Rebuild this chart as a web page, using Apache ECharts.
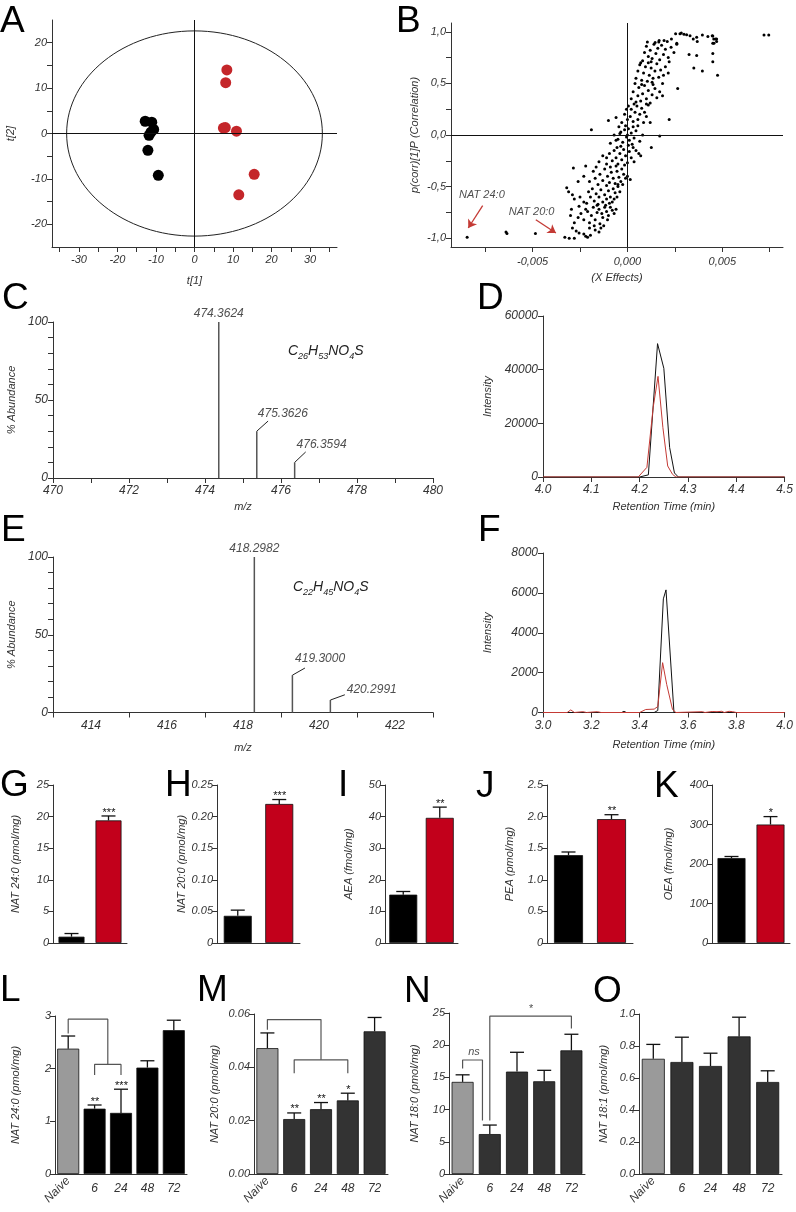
<!DOCTYPE html>
<html><head><meta charset="utf-8">
<script src="https://cdn.jsdelivr.net/npm/echarts@6/dist/echarts.min.js"></script>
<style>html,body{margin:0;padding:0;background:#fff}#c{width:796px;height:1212px}</style>
</head><body><div id="c"></div>
<script>
// ---------------- DATA ----------------
// A: PCA scores
const scoresControlX = [-12.8, -11.1, -10.6, -11.3, -11.8, -12.1, -9.4];
const scoresControlY = [2.7, 2.5, 0.9, 0.3, -0.4, -3.7, -9.2];
const scoresTreatedX = [8.4, 8.1, 7.5, 8.0, 10.9, 15.5, 11.5];
const scoresTreatedY = [14.0, 11.2, 1.2, 1.3, 0.5, -9.0, -13.5];
const hotellingRadii = [33.2, 22.6];
// B: S-plot (X effects, correlation)
const sPlotPoints = [
[-0.00845,-0.99],[-0.0064,-0.94],[-0.00635,-0.955],[-0.00485,-0.955],[-0.0033,-0.99],[-0.00307,-1.0],[-0.0028,-1.0],
[0.0072,0.968],[0.00745,0.968],[0.00475,0.58],[0.00395,0.62],[0.0035,0.65],[0.0045,0.71],[0.0045,0.79],[0.0045,0.89],[0.00455,0.93],[0.0047,0.93],[0.0045,0.96],[0.00365,0.77],[0.00325,0.78],[0.00265,0.45],[0.0022,0.15],[0.0017,-0.01],[0.00126,-0.12],[-0.0019,0.05],[-0.001,0.14],[-0.00285,-0.32],[-0.0022,-0.3],[-0.0032,-0.51],
[0.00146,0.897],[0.00167,0.916],[0.00193,0.916],[0.0021,0.906],[0.00232,0.929],[0.00254,0.981],[0.0026,0.89],[0.00277,0.981],[0.00284,0.987],[0.00298,0.977],[0.00312,0.971],[0.0033,0.961],[0.00347,0.929],[0.00365,0.948],[0.00368,0.906],[0.00395,0.968],[0.00424,0.955],[0.00447,0.961],[0.00465,0.929],[0.0047,0.906],[0.00456,0.89],
[-0.00255,-0.95],[-0.0023,-0.96],[-0.0022,-0.98],[-0.0021,-0.99],[-0.00195,-0.97],[-0.0017,-0.92],[-0.0015,-0.94],[-0.0014,-0.9],[-0.0027,-0.93],[-0.0029,-0.9],[-0.00125,-0.88],[-0.002,-0.9],
[-0.0028,-0.85],[-0.0026,-0.8],[-0.00245,-0.76],[-0.0023,-0.82],[-0.0022,-0.72],[-0.002,-0.85],[-0.0019,-0.78],[-0.0018,-0.7],[-0.0017,-0.82],[-0.0016,-0.75],[-0.0015,-0.72],[-0.00145,-0.86],[-0.0013,-0.8],[-0.0012,-0.7],[-0.0011,-0.74],[-0.001,-0.78],[-0.0009,-0.7],[-0.0008,-0.73],[-0.0007,-0.76],[-0.00175,-0.88],[-0.0021,-0.74],[-0.00135,-0.76],[-0.00105,-0.82],[-0.0006,-0.72],[-0.00155,-0.67],[-0.003,-0.78],[-0.00295,-0.72],[-0.00255,-0.69],
[-0.0031,-0.55],[-0.0029,-0.58],[-0.0028,-0.62],[-0.0025,-0.6],[-0.0023,-0.65],[-0.00205,-0.55],[-0.00195,-0.6],[-0.00185,-0.52],[-0.00175,-0.64],[-0.00165,-0.57],[-0.0015,-0.6],[-0.0014,-0.53],[-0.0013,-0.65],[-0.0012,-0.58],[-0.0011,-0.62],[-0.001,-0.54],[-0.0009,-0.6],[-0.0008,-0.65],[-0.00075,-0.52],[-0.00065,-0.56],[-0.00055,-0.6],[-0.0005,-0.5],[-0.0004,-0.55],[-0.0016,-0.68],[-0.00115,-0.68],[-0.00095,-0.66],[-0.0007,-0.62],[-0.00215,-0.66],
[-0.0026,-0.45],[-0.0023,-0.4],[-0.002,-0.45],[-0.0018,-0.35],[-0.0017,-0.42],[-0.00155,-0.48],[-0.00145,-0.38],[-0.0013,-0.44],[-0.0012,-0.33],[-0.00105,-0.4],[-0.00095,-0.46],[-0.00085,-0.36],[-0.00075,-0.42],[-0.00065,-0.47],[-0.00055,-0.35],[-0.00045,-0.41],[-0.00035,-0.45],[-0.0003,-0.33],[-0.0002,-0.38],[-0.0001,-0.42],[0.0,-0.4],[0.00015,-0.43],[-0.0006,-0.3],[-0.00165,-0.31],[-0.0009,-0.31],[-0.0005,-0.48],[-0.00025,-0.48],[-0.0011,-0.49],
[-0.0011,-0.22],[-0.0015,-0.26],[-0.0013,-0.2],[-0.0011,-0.28],[-0.00095,-0.18],[-0.0008,-0.25],[-0.0007,-0.15],[-0.0006,-0.22],[-0.0005,-0.28],[-0.0004,-0.18],[-0.0003,-0.24],[-0.0002,-0.14],[-0.0001,-0.2],[0.0,-0.27],[0.0001,-0.16],[0.0002,-0.22],[0.0003,-0.12],[0.00045,-0.15],[0.0006,-0.18],[0.0007,-0.2],[-0.00035,-0.11],[-0.00055,-0.12],[0.00005,-0.1],[-0.00015,-0.29],[0.00035,-0.26],
[-0.0006,-0.05],[-0.0004,0.015],[-0.0009,-0.08],[-0.0007,0.0],[-0.0005,-0.04],[-0.00035,0.03],[-0.00025,-0.07],[-0.00015,0.05],[-0.00005,-0.02],[0.00005,0.06],[0.0001,-0.05],[0.0002,0.02],[0.0003,0.08],[0.00035,-0.03],[0.00045,0.04],[0.00055,0.09],[0.00065,-0.06],[0.0008,0.0],[-0.0001,0.09],[0.0,0.0],[0.00025,-0.09],[-0.00045,0.08],
[-0.0006,0.17],[-0.0003,0.12],[-0.00015,0.2],[0.0,0.15],[0.00005,0.28],[0.00015,0.18],[0.0002,0.25],[0.0003,0.13],[0.0004,0.22],[0.0005,0.28],[0.00055,0.15],[0.00065,0.2],[0.00075,0.26],[0.00085,0.12],[0.001,0.18],[0.0011,0.29],[0.00035,0.3],[-0.00005,0.25],[0.0009,0.22],[0.0012,0.12],
[0.0002,0.35],[0.0003,0.42],[0.00045,0.32],[0.00055,0.38],[0.0006,0.46],[0.0007,0.33],[0.0008,0.4],[0.0009,0.48],[0.001,0.35],[0.0011,0.43],[0.0012,0.31],[0.0013,0.39],[0.00145,0.45],[0.00155,0.36],[0.0017,0.42],[0.0004,0.5],[0.00075,0.49],[0.00135,0.49],[0.00185,0.38],[0.001,0.3],
[0.00045,0.55],[0.00055,0.62],[0.00065,0.68],[0.00075,0.53],[0.00085,0.6],[0.00095,0.66],[0.00105,0.52],[0.00115,0.58],[0.00125,0.65],[0.00135,0.55],[0.00145,0.62],[0.00155,0.69],[0.00165,0.56],[0.00175,0.63],[0.0019,0.58],[0.002,0.66],[0.00215,0.6],[0.0007,0.7],[0.0011,0.7],[0.00185,0.5],[0.0013,0.51],
[0.0008,0.72],[0.0009,0.8],[0.001,0.86],[0.0011,0.76],[0.0012,0.82],[0.0013,0.74],[0.0014,0.88],[0.0015,0.79],[0.0016,0.84],[0.0017,0.73],[0.0018,0.87],[0.0019,0.78],[0.002,0.83],[0.00215,0.75],[0.0023,0.85],[0.00245,0.8],[0.00105,0.9],[0.00165,0.9],[0.0026,0.88],[0.0022,0.71],[0.00125,0.71]
];
const sPlotArrows = [
  {label: 'NAT 24:0', from: [-0.00763, -0.685], to: [-0.00839, -0.901], text: [-0.00767, -0.585]},
  {label: 'NAT 20:0', from: [-0.00483, -0.821], to: [-0.00377, -0.950], text: [-0.00505, -0.743]}
];
// C, E: mass spectra
const spectrumC_mz = [474.3624, 475.3626, 476.3594];
const spectrumC_ab = [100, 30, 10];
const spectrumE_mz = [418.2982, 419.3000, 420.2991];
const spectrumE_ab = [100, 24, 8];
const leaderC = [{end: [475.66, 36.5], text: [475.39, 41.5]}, {end: [476.65, 16.7], text: [476.41, 21.2]}];
const leaderE = [{end: [419.63, 28.6], text: [419.37, 34.5]}, {end: [420.68, 11.4], text: [420.73, 14.6]}];
// D, F: chromatograms [time, intensity]
const chromD_black = [[4.0,0],[4.2,0],[4.218,800],[4.237,49700],[4.25,40500],[4.262,11000],[4.272,1500],[4.28,0],[4.5,0]];
const chromD_red = [[4.0,0],[4.197,0],[4.215,3600],[4.228,26000],[4.238,37500],[4.248,18500],[4.258,4100],[4.268,1000],[4.275,0],[4.5,0]];
const chromF_black = [[3.0,0],[3.325,0],[3.335,60],[3.345,0],[3.46,0],[3.475,100],[3.498,5700],[3.509,6150],[3.542,0],[4.0,0]];
const chromF_red = [[3.0,0],[3.1,0],[3.115,130],[3.13,0],[3.165,40],[3.18,0],[3.225,40],[3.24,0],[3.4,0],[3.425,150],[3.46,170],[3.475,300],[3.495,2500],[3.512,1400],[3.536,150],[3.55,0],[3.66,40],[3.67,0],[3.7,50],[3.72,40],[3.74,60],[3.75,0],[3.77,60],[3.785,40],[3.8,0],[4.0,0]];
// G-K: two groups
const groupCats = ['Control', 'Treated'];
const G_mean = [1.0, 19.4], G_sem = [0.5, 0.7], G_sig = ['', '***'];
const H_mean = [0.043, 0.22], H_sem = [0.009, 0.007], H_sig = ['', '***'];
const I_mean = [15.3, 39.6], I_sem = [1.0, 3.4], I_sig = ['', '**'];
const J_mean = [1.39, 1.96], J_sem = [0.05, 0.07], J_sig = ['', '**'];
const K_mean = [215, 300], K_sem = [4, 20], K_sig = ['', '*'];
// L-O: time course
const timeCats = ['Naive', '6', '24', '48', '72'];
const L_mean = [2.38, 1.24, 1.16, 2.02, 2.73], L_sem = [0.24, 0.07, 0.45, 0.13, 0.19], L_sig = ['', '**', '***', '', ''];
const M_mean = [0.0472, 0.0206, 0.0243, 0.0276, 0.0535], M_sem = [0.0057, 0.0023, 0.0025, 0.0027, 0.0052], M_sig = ['', '**', '**', '*', ''];
const N_mean = [14.3, 6.2, 15.9, 14.4, 19.2], N_sem = [1.1, 1.4, 3.0, 1.7, 2.5], N_sig = ['', '', '', '', ''];
const O_mean = [0.72, 0.70, 0.675, 0.86, 0.575], O_sem = [0.09, 0.155, 0.08, 0.12, 0.07], O_sig = ['', '', '', '', ''];
const L_brackets = [[[0,2.67],[0,2.94],[1.5,2.94],[1.5,2.08]], [[1,1.88],[1,2.08],[2,2.08],[2,1.88]]];
const M_brackets = [[[0,0.0541],[0,0.0579],[2,0.0579],[2,0.0428]], [[1,0.0378],[1,0.0428],[3,0.0428],[3,0.0378]]];
const N_brackets = [[[0,16.4],[0,17.7],[0.73,17.7],[0.73,8.3]], [[1,8.3],[1,24.5],[4,24.5],[4,22.6]]];
const N_bracketText = [{t: 'ns', at: [0.42, 18.9]}, {t: '*', at: [2.5, 25.7]}];

// ---------------- BUILD ----------------
const FONT = '"Liberation Sans", Arial, Helvetica, sans-serif';
const INK = '#333';
const RED = '#c2001b';
const DOT_RED = '#c4262a';
const LINE_RED = '#c43a35';
const gridList = [], xAxes = [], yAxes = [], series = [], graphics = [];

function addGrid(left, top, width, height) { gridList.push({left, top, width, height}); return gridList.length - 1; }
function axisBase(gi, extra) {
  const ax = {
    gridIndex: gi,
    axisLine: {show: true, onZero: false, lineStyle: {color: INK, width: 1}},
    axisTick: {show: true, inside: false, length: 5, lineStyle: {color: INK, width: 1}},
    axisLabel: {show: true, margin: 5, fontFamily: FONT, fontStyle: 'italic', fontSize: 11, color: INK},
    splitLine: {show: false},
    nameLocation: 'middle',
    nameTextStyle: {fontFamily: FONT, fontStyle: 'italic', fontSize: 11, color: INK}
  };
  for (const k in extra) {
    const v = extra[k];
    if (v && typeof v === 'object' && !Array.isArray(v) && ax[k] && typeof ax[k] === 'object') ax[k] = Object.assign({}, ax[k], v);
    else ax[k] = v;
  }
  return ax;
}
function addX(gi, extra) { xAxes.push(axisBase(gi, Object.assign({position: 'bottom'}, extra))); return xAxes.length - 1; }
function addY(gi, extra) { yAxes.push(axisBase(gi, Object.assign({position: 'left'}, extra))); return yAxes.length - 1; }
const zip = (a, b) => a.map((v, i) => [v, b[i]]);
const crosshair = () => ({silent: true, symbol: ['none', 'none'], label: {show: false}, animation: false,
  lineStyle: {color: '#111', width: 1, type: 'solid'}, emphasis: {disabled: true}, data: [{xAxis: 0}, {yAxis: 0}]});
const comma = d => v => v.toFixed(d).replace('.', ',');
const plain = v => String(v);
const labelText = {fontFamily: FONT, fontStyle: 'italic', fontWeight: 'normal', fontSize: 12, color: '#222'};

// ----- A -----
const gA = addGrid(52, 20, 285, 227);
const xA = addX(gA, {type: 'value', min: -37, max: 37,
  axisTick: {customValues: [-35,-30,-25,-20,-15,-10,-5,0,5,10,15,20,25,30,35]},
  axisLabel: {customValues: [-30,-20,-10,0,10,20,30], margin: 7}, name: 't[1]', nameGap: 28});
const yA = addY(gA, {type: 'value', min: -25, max: 25,
  axisTick: {customValues: [-20,-15,-10,-5,0,5,10,15,20]},
  axisLabel: {customValues: [-20,-10,0,10,20]}, name: 't[2]', nameGap: 36});
series.push({type: 'custom', xAxisIndex: xA, yAxisIndex: yA, silent: true, z: 1,
  data: [[0, 0, hotellingRadii[0], hotellingRadii[1]]],
  renderItem: (p, api) => {
    const c = api.coord([api.value(0), api.value(1)]);
    const s = api.size([api.value(2), api.value(3)]);
    return {type: 'ellipse', shape: {cx: c[0], cy: c[1], rx: s[0], ry: s[1]}, style: {fill: 'none', stroke: '#222', lineWidth: 1}};
  }});
series.push({type: 'scatter', xAxisIndex: xA, yAxisIndex: yA, data: zip(scoresControlX, scoresControlY), symbolSize: 11,
  itemStyle: {color: '#000', opacity: 1}, markLine: crosshair()});
series.push({type: 'scatter', xAxisIndex: xA, yAxisIndex: yA, data: zip(scoresTreatedX, scoresTreatedY), symbolSize: 11,
  itemStyle: {color: DOT_RED, opacity: 1}});

// ----- B -----
const gB = addGrid(451, 23, 332, 224);
const xB = addX(gB, {type: 'value', min: -0.0093, max: 0.0082,
  axisTick: {customValues: [-0.0075,-0.005,-0.0025,0,0.0025,0.005,0.0075]},
  axisLabel: {customValues: [-0.005,0,0.005], formatter: comma(3), margin: 9}, name: '(X Effects)', nameGap: 25});
const yB = addY(gB, {type: 'value', min: -1.085, max: 1.085,
  axisTick: {customValues: [-1,-0.75,-0.5,-0.25,0,0.25,0.5,0.75,1]},
  axisLabel: {customValues: [-1,-0.5,0,0.5,1], formatter: comma(1)}, name: 'p(corr)[1]P (Correlation)', nameGap: 31});
series.push({type: 'scatter', xAxisIndex: xB, yAxisIndex: yB, data: sPlotPoints, symbolSize: 3, itemStyle: {color: '#000', opacity: 1},
  markLine: crosshair()});
series.push({type: 'scatter', xAxisIndex: xB, yAxisIndex: yB, symbolSize: 0, clip: false,
  data: sPlotArrows.map(a => ({value: a.text, name: a.label})),
  label: {show: true, position: 'inside', formatter: '{b}', fontFamily: FONT, fontStyle: 'italic', fontSize: 11, color: '#222'},
  markLine: {silent: true, animation: false, label: {show: false}, symbolSize: 8, emphasis: {disabled: true},
    lineStyle: {color: LINE_RED, width: 1.3, type: 'solid'},
    data: sPlotArrows.map(a => [{coord: a.from, symbol: 'none'}, {coord: a.to, symbol: 'arrow'}])}});

// ----- C & E (spectra) -----
function spectrum(top, height, xmin, xmax, tickOpt, labelVals, mz, ab, leaders, nameGapX) {
  const g = addGrid(53, top, 380, height);
  const x = addX(g, Object.assign({type: 'value', min: xmin, max: xmax,
    axisLabel: {customValues: labelVals, margin: 7, fontSize: 12}, name: 'm/z', nameGap: nameGapX}, tickOpt));
  const y = addY(g, {type: 'value', min: 0, max: 100, interval: 10,
    axisLabel: {customValues: [0, 50, 100], fontSize: 12}, name: '% Abundance', nameGap: 36});
  series.push({type: 'bar', xAxisIndex: x, yAxisIndex: y, barWidth: 1.5,
    data: mz.map((m, i) => [m, ab[i]]), itemStyle: {color: '#555'}});
  // label of the base peak
  series.push({type: 'scatter', xAxisIndex: x, yAxisIndex: y, symbolSize: 0, silent: true, clip: false,
    data: [[mz[0], ab[0]]],
    label: Object.assign({show: true, position: 'top', distance: 2, formatter: p => p.value[0].toFixed(4)}, labelText)});
  leaders.forEach((l, k) => {
    series.push({type: 'line', xAxisIndex: x, yAxisIndex: y, symbol: 'none', silent: true,
      data: [[mz[k + 1], ab[k + 1]], l.end], lineStyle: {color: '#222', width: 1}});
  });
  series.push({type: 'scatter', xAxisIndex: x, yAxisIndex: y, symbolSize: 0, silent: true, clip: false,
    data: leaders.map((l, k) => ({value: l.text, name: mz[k + 1].toFixed(4)})),
    label: Object.assign({show: true, position: 'right', distance: 0, formatter: '{b}'}, labelText)});
}
spectrum(322, 156, 470, 480, {interval: 1}, [470,472,474,476,478,480], spectrumC_mz, spectrumC_ab, leaderC, 23);
spectrum(557, 155.5, 413, 423, {axisTick: {customValues: [413,415,417,419,421,423]}}, [414,416,418,420,422], spectrumE_mz, spectrumE_ab, leaderE, 30);

// ----- D & F (chromatograms) -----
function chrom(top, height, xmin, xmax, xint, ymax, yint, blk, red, nameGapX) {
  const g = addGrid(543, top, 242, height);
  const x = addX(g, {type: 'value', min: xmin, max: xmax, interval: xint,
    axisLabel: {formatter: v => v.toFixed(1), margin: 7, fontSize: 12}, name: 'Retention Time (min)', nameGap: nameGapX});
  const y = addY(g, {type: 'value', min: 0, max: ymax, interval: yint, axisLabel: {fontSize: 12, formatter: plain}, name: 'Intensity', nameGap: 50});
  series.push({type: 'line', xAxisIndex: x, yAxisIndex: y, data: blk, symbol: 'none', lineStyle: {color: '#111', width: 1}});
  series.push({type: 'line', xAxisIndex: x, yAxisIndex: y, data: red, symbol: 'none', lineStyle: {color: LINE_RED, width: 1}});
}
chrom(316, 161, 4.0, 4.5, 0.1, 60000, 20000, chromD_black, chromD_red, 24);
chrom(553, 159.5, 3.0, 4.0, 0.2, 8000, 2000, chromF_black, chromF_red, 27);

// ----- bar panels -----
function errRender(sig) {
  return function (params, api) {
    const i = params.dataIndex;
    const p0 = api.coord([api.value(0), api.value(1)]);
    const p1 = api.coord([api.value(0), api.value(2)]);
    const cap = 7;
    const ch = [
      {type: 'line', shape: {x1: p0[0], y1: p0[1], x2: p1[0], y2: p1[1]}, style: {stroke: '#111', lineWidth: 1.3}},
      {type: 'line', shape: {x1: p1[0] - cap, y1: p1[1], x2: p1[0] + cap, y2: p1[1]}, style: {stroke: '#111', lineWidth: 1.3}}
    ];
    if (sig && sig[i]) ch.push({type: 'text', x: p1[0], y: p1[1] + 2, style: {text: sig[i], align: 'center', verticalAlign: 'bottom',
      font: 'italic 11px ' + FONT, fill: '#111'}});
    return {type: 'group', children: ch};
  };
}
function barPanel(o) {
  const g = addGrid(o.left, o.top, o.width, o.height);
  const n = o.cats.length;
  const xc = addX(g, {type: 'category', data: o.cats, axisTick: {show: false},
    axisLabel: o.timeAxis ? {show: true, interval: 0, margin: 9, fontSize: 12, formatter: (v, i) => i === 0 ? '' : v} : {show: false}});
  if (o.timeAxis) addX(g, {type: 'category', data: o.cats, axisLine: {show: false}, axisTick: {show: false},
    axisLabel: {show: true, interval: 0, rotate: 45, margin: 5, fontSize: 12, formatter: (v, i) => i === 0 ? v : ''}});
  const xv = addX(g, {type: 'value', min: -0.5, max: n - 0.5, show: false});
  const y = addY(g, {type: 'value', min: 0, max: o.yMax, interval: o.yInt, axisLabel: {formatter: o.yFmt || plain, fontSize: 11, margin: 4},
    name: o.yName, nameGap: o.nameGap});
  series.push({type: 'bar', xAxisIndex: xc, yAxisIndex: y, barWidth: o.barWidth,
    data: o.means.map((m, i) => ({value: m, itemStyle: {color: o.colors[i], borderColor: '#111', borderWidth: 0.8}}))});
  series.push({type: 'custom', xAxisIndex: xv, yAxisIndex: y, silent: true, z: 3, clip: false,
    data: o.means.map((m, i) => [i, m, m + o.sems[i]]), renderItem: errRender(o.sig)});
  (o.brackets || []).forEach(b => series.push({type: 'line', xAxisIndex: xv, yAxisIndex: y, data: b, symbol: 'none', silent: true,
    clip: false, lineStyle: {color: '#555', width: 1.2}}));
  if (o.bracketText) series.push({type: 'scatter', xAxisIndex: xv, yAxisIndex: y, symbolSize: 0, silent: true, clip: false,
    data: o.bracketText.map(t => ({value: t.at, name: t.t})),
    label: {show: true, position: 'inside', formatter: '{b}', fontFamily: FONT, fontStyle: 'italic', fontSize: 11, color: '#222'}});
}
const fix = d => v => v === 0 ? '0' : v.toFixed(d);
const two = ['#000', RED];
barPanel({left: 53, top: 785, width: 74, height: 158, cats: groupCats, means: G_mean, sems: G_sem, sig: G_sig, colors: two,
  yMax: 25, yInt: 5, yName: 'NAT 24:0 (pmol/mg)', nameGap: 32, barWidth: 26});
barPanel({left: 217, top: 785, width: 83, height: 158, cats: groupCats, means: H_mean, sems: H_sem, sig: H_sig, colors: two,
  yMax: 0.25, yInt: 0.05, yFmt: fix(2), yName: 'NAT 20:0 (pmol/mg)', nameGap: 30, barWidth: 28});
barPanel({left: 385, top: 785, width: 73, height: 158, cats: groupCats, means: I_mean, sems: I_sem, sig: I_sig, colors: two,
  yMax: 50, yInt: 10, yName: 'AEA (fmol/mg)', nameGap: 31, barWidth: 28});
barPanel({left: 547, top: 785, width: 86, height: 158, cats: groupCats, means: J_mean, sems: J_sem, sig: J_sig, colors: two,
  yMax: 2.5, yInt: 0.5, yFmt: fix(1), yName: 'PEA (pmol/mg)', nameGap: 32, barWidth: 29});
barPanel({left: 712, top: 785, width: 78, height: 158, cats: groupCats, means: K_mean, sems: K_sem, sig: K_sig, colors: two,
  yMax: 400, yInt: 100, yName: 'OEA (fmol/mg)', nameGap: 38, barWidth: 28});
const gray = '#9a9a9a', dark = '#333';
barPanel({left: 55, top: 1016, width: 132, height: 158, cats: timeCats, means: L_mean, sems: L_sem, sig: L_sig, timeAxis: true,
  colors: [gray, '#000', '#000', '#000', '#000'], yMax: 3, yInt: 1, yName: 'NAT 24:0 (pmol/mg)', nameGap: 34, barWidth: 22,
  brackets: L_brackets});
barPanel({left: 254, top: 1014, width: 134, height: 160, cats: timeCats, means: M_mean, sems: M_sem, sig: M_sig, timeAxis: true,
  colors: [gray, dark, dark, dark, dark], yMax: 0.06, yInt: 0.02, yFmt: v => v.toFixed(2), yName: 'NAT 20:0 (pmol/mg)', nameGap: 34,
  barWidth: 22, brackets: M_brackets});
barPanel({left: 449, top: 1013, width: 136, height: 161, cats: timeCats, means: N_mean, sems: N_sem, sig: N_sig, timeAxis: true,
  colors: [gray, dark, dark, dark, dark], yMax: 25, yInt: 5, yName: 'NAT 18:0 (pmol/mg)', nameGap: 29, barWidth: 22,
  brackets: N_brackets, bracketText: N_bracketText});
barPanel({left: 639, top: 1014, width: 143, height: 160, cats: timeCats, means: O_mean, sems: O_sem, sig: O_sig, timeAxis: true,
  colors: [gray, dark, dark, dark, dark], yMax: 1.0, yInt: 0.2, yFmt: v => v.toFixed(1), yName: 'NAT 18:1 (pmol/mg)', nameGap: 30,
  barWidth: 23});

// ----- letters & formulas -----
const letters = [['A',0,8],['B',396,8],['C',2,285],['D',477,285],['E',1,517],['F',478,517],['G',0,772],['H',165,772],['I',338,772],
  ['J',476,773],['K',654,773],['L',0,977],['M',197,977],['N',404,978],['O',593,978]];
letters.forEach(([t, x, y]) => graphics.push({type: 'text', left: x, top: y - 5, silent: true,
  style: {text: t, font: '37px ' + FONT, fill: '#000'}}));
function formula(parts, left, top) {
  const txt = parts.map((p, i) => (i % 2 === 0 ? '{m|' : '{s|') + p + '}').join('');
  graphics.push({type: 'text', left, top, silent: true, style: {text: txt, rich: {
    m: {fontFamily: FONT, fontStyle: 'italic', fontSize: 14, fill: '#222', lineHeight: 17, verticalAlign: 'top'},
    s: {fontFamily: FONT, fontStyle: 'italic', fontSize: 9, fill: '#222', lineHeight: 9, verticalAlign: 'bottom'}}}});
}
formula(['C','26','H','53','NO','4','S'], 288, 344);
formula(['C','22','H','45','NO','4','S'], 293, 580);

const chart = echarts.init(document.getElementById('c'), null, {renderer: 'canvas', width: 796, height: 1212});
chart.setOption({animation: false, backgroundColor: '#fff', textStyle: {fontFamily: FONT},
  grid: gridList, xAxis: xAxes, yAxis: yAxes, series, graphic: graphics});
</script></body></html>
